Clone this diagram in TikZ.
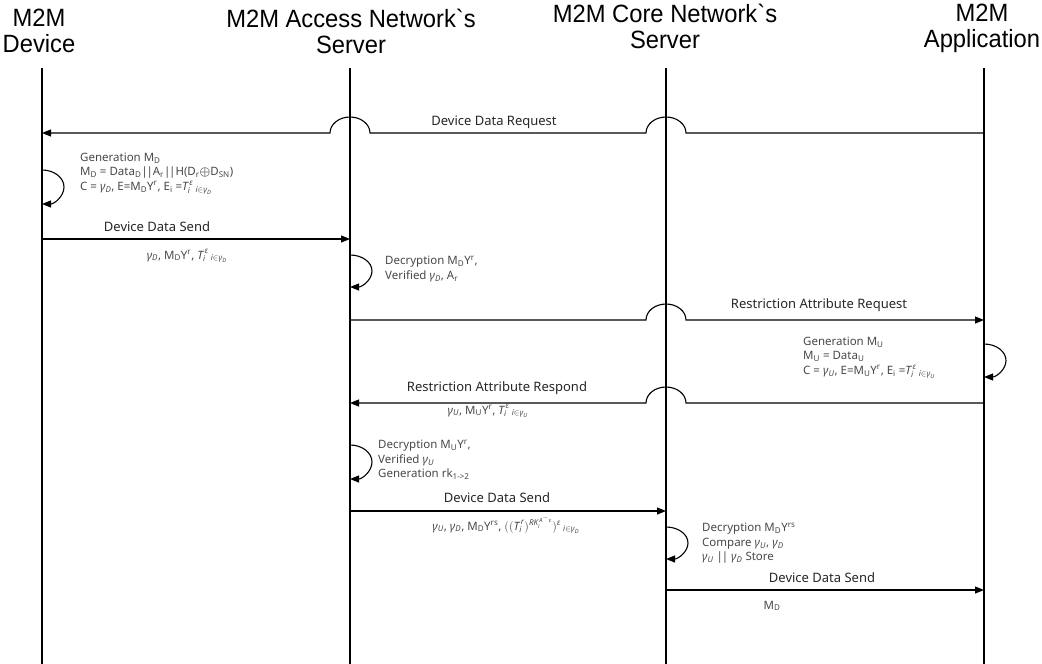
\documentclass[tikz,border=0pt]{standalone}
\usepackage{amsmath}
\usepackage{fontspec}
\setmainfont{Noto Sans}
\newfontfamily\titlefont[FakeStretch=0.95]{Liberation Sans}
\usetikzlibrary{arrows.meta}
\newcommand{\gamD}{\textit{γ}\textsubscript{\textit{D}}}
\newcommand{\gamU}{\textit{γ}\textsubscript{\textit{U}}}
\newcommand{\TiD}{$\textit{T}_{\textit{i}}^{\,\textit{ε}}{}_{\;\textit{i}\in\textit{γ}_{\textit{D}}}$}
\newcommand{\TiU}{$\textit{T}_{\textit{i}}^{\,\textit{ε}}{}_{\;\textit{i}\in\textit{γ}_{\textit{U}}}$}
\newcommand{\dbar}{|\kern-1.2pt|}
\begin{document}
\begin{tikzpicture}[
  life/.style={line width=2.3pt},
  msg/.style={line width=1.1pt,-{Triangle[length=9pt,width=7pt]}},
  lbl/.style={font=\fontsize{13}{15}\selectfont,text=black!85,inner sep=0pt,anchor=base},
  sub/.style={font=\fontsize{11.5}{14}\selectfont,text=black!72,inner sep=0pt,anchor=base},
  note/.style={font=\fontsize{11.5}{14.3}\selectfont,text=black!72,align=left,inner sep=0pt,anchor=north west},
  ttl/.style={font=\titlefont\fontsize{25}{26}\selectfont,align=center,inner sep=0pt,anchor=north},
]
\useasboundingbox (0,0) rectangle (1042pt,-664pt);
\begin{scope}[x=1pt,y=1pt]
% lifelines
\coordinate (dev) at (42,-68);
\coordinate (acc) at (350,-68);
\coordinate (core) at (666,-68);
\coordinate (app) at (984,-68);
\coordinate (bot) at (0,-664);
\draw[life] (dev) -- (dev|-bot);
\draw[life] (acc) -- (acc|-bot);
\draw[life] (core) -- (core|-bot);
\draw[life] (app) -- (app|-bot);
% titles
\node[ttl] (tdev) at (39,-9) {M2M\\Device};
\node[ttl] (tacc) at (351,-9) {M2M Access Network`s\\Server};
\node[ttl] (tcore) at (665,-4) {M2M Core Network`s\\Server};
\node[ttl] (tapp) at (982,-4) {M2M\\Application};
% levels
\coordinate (y1) at (0,-133);
\coordinate (l1) at (0,-170);
\coordinate (y2) at (0,-239);
\coordinate (l2) at (0,-255);
\coordinate (y3) at (0,-320);
\coordinate (l3) at (0,-344);
\coordinate (y4) at (0,-403);
\coordinate (l4) at (0,-445);
\coordinate (y5) at (0,-511);
\coordinate (l5) at (0,-527);
\coordinate (y6) at (0,-590);
% 1 Device Data Request
\draw[msg] (app|-y1) -- ([xshift=20pt]core|-y1)
  arc[start angle=0,end angle=180,x radius=20pt,y radius=16pt]
  -- ([xshift=20pt]acc|-y1)
  arc[start angle=0,end angle=180,x radius=20pt,y radius=16pt]
  -- (dev|-y1);
\node[lbl] (m1) at (494,-125) {Device Data Request};
% loop 1
\draw[msg] (dev|-l1) arc[start angle=90,end angle=-90,x radius=22pt,y radius=17pt];
\node[note] (n1) at (80,-153) {Generation M\textsubscript{D}\\
  M\textsubscript{D} = Data\textsubscript{D}\dbar A\textsubscript{r}\dbar H(D\textsubscript{r}$\boldsymbol{\oplus}$D\textsubscript{SN})\\
  C = \gamD, E=M\textsubscript{D}Y\textsuperscript{r}, E\textsubscript{i} =\TiD};
% 2 Device Data Send
\draw[msg] (dev|-y2) -- (acc|-y2);
\node[lbl] (m2) at (157,-231) {Device Data Send};
\node[sub] (s2) at (187,-259) {\gamD, M\textsubscript{D}Y\textsuperscript{r}, \TiD};
% loop 2
\draw[msg] (acc|-l2) arc[start angle=90,end angle=-90,x radius=22pt,y radius=16pt];
\node[note] (n2) at (385,-256) {Decryption M\textsubscript{D}Y\textsuperscript{r},\\
  Verified \gamD, A\textsubscript{r}};
% 3 Restriction Attribute Request
\draw[msg] (acc|-y3) -- ([xshift=-20pt]core|-y3)
  arc[start angle=180,end angle=0,x radius=20pt,y radius=16pt]
  -- (app|-y3);
\node[lbl] (m3) at (819,-308) {Restriction Attribute Request};
% loop 3
\draw[msg] (app|-l3) arc[start angle=90,end angle=-90,x radius=22pt,y radius=16.5pt];
\node[note] (n3) at (803,-337) {Generation M\textsubscript{U}\\
  M\textsubscript{U} = Data\textsubscript{U}\\
  C = \gamU, E=M\textsubscript{U}Y\textsuperscript{r}, E\textsubscript{i} =\TiU};
% 4 Restriction Attribute Respond
\draw[msg] (app|-y4) -- ([xshift=20pt]core|-y4)
  arc[start angle=0,end angle=180,x radius=20pt,y radius=16pt]
  -- (acc|-y4);
\node[lbl] (m4) at (497,-391) {Restriction Attribute Respond};
\node[sub] (s4) at (488,-414) {\gamU, M\textsubscript{U}Y\textsuperscript{r}, \TiU};
% loop 4
\draw[msg] (acc|-l4) arc[start angle=90,end angle=-90,x radius=22pt,y radius=17pt];
\node[note] (n4) at (378,-440) {Decryption M\textsubscript{U}Y\textsuperscript{r},\\
  Verified \gamU\\
  Generation rk\textsubscript{1->2}};
% 5 Device Data Send
\draw[msg] (acc|-y5) -- (core|-y5);
\node[lbl] (m5) at (497,-502) {Device Data Send};
\node[sub] (s5) at (506,-530) {\gamU, \gamD, M\textsubscript{D}Y\textsuperscript{rs}, $((\textit{T}_{\textit{i}}^{\,\textit{r}})^{\textit{RK}_{\textit{i}}^{\,\textit{A}^{-}\textit{ε}}})^{\textit{ε}}{}_{\;\textit{i}\in\textit{γ}_{\textit{D}}}$};
% loop 5
\draw[msg] (core|-l5) arc[start angle=90,end angle=-90,x radius=22pt,y radius=16pt];
\node[note] (n5) at (702,-523) {Decryption M\textsubscript{D}Y\textsuperscript{rs}\\
  Compare \gamU, \gamD\\
  \gamU\ \dbar\ \gamD\ Store};
% 6 Device Data Send
\draw[msg] (core|-y6) -- (app|-y6);
\node[lbl] (m6) at (822,-582) {Device Data Send};
\node[sub] (s6) at (772,-609) {M\textsubscript{D}};
\end{scope}
\end{tikzpicture}
\end{document}
